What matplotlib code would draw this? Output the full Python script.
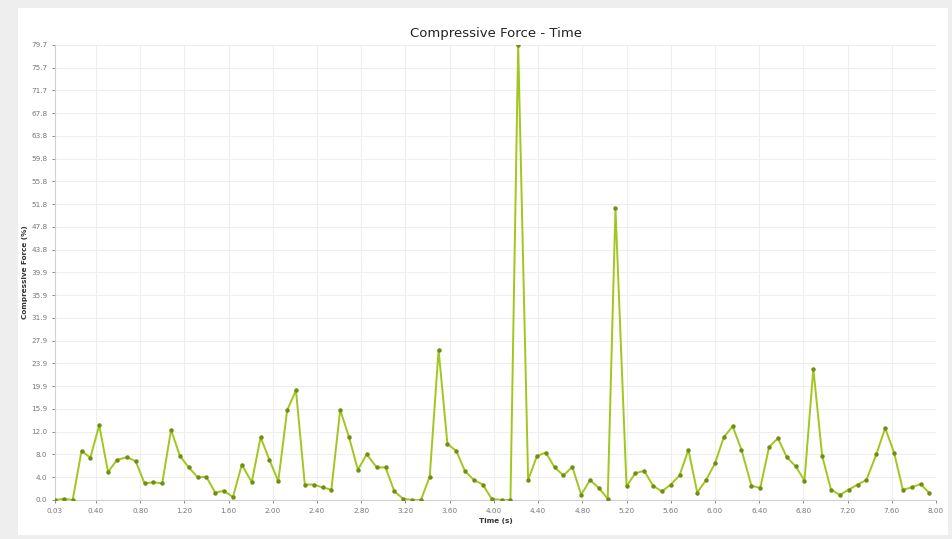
import numpy as np
import matplotlib
matplotlib.use('Agg')
import matplotlib.pyplot as plt
from matplotlib.patches import Rectangle

# sample times (s)
times = [0.03, 0.11, 0.19, 0.27, 0.35, 0.43, 0.51, 0.59, 0.68, 0.76,
         0.84, 0.92, 1.00, 1.08, 1.16, 1.24, 1.32, 1.40, 1.48, 1.56,
         1.64, 1.72, 1.81, 1.89, 1.97, 2.05, 2.13, 2.21, 2.29, 2.37,
         2.45, 2.53, 2.61, 2.69, 2.77, 2.85, 2.94, 3.02, 3.10, 3.18,
         3.26, 3.34, 3.42, 3.50, 3.58, 3.66, 3.74, 3.82, 3.90, 3.98,
         4.07, 4.15, 4.22, 4.31, 4.39, 4.47, 4.55, 4.63, 4.71, 4.79,
         4.87, 4.95, 5.03, 5.10, 5.20, 5.28, 5.36, 5.44, 5.52, 5.60,
         5.68, 5.76, 5.84, 5.92, 6.00, 6.08, 6.16, 6.24, 6.33, 6.41,
         6.49, 6.57, 6.65, 6.73, 6.81, 6.89, 6.97, 7.05, 7.13, 7.21,
         7.29, 7.37, 7.46, 7.54, 7.62, 7.70, 7.78, 7.86, 7.94]

# compressive force (%)
force = [0.0, 0.2, 0.0, 8.6, 7.4, 13.1, 4.9, 7.0, 7.5, 6.8,
         2.9, 3.1, 2.9, 12.3, 7.7, 5.7, 4.0, 4.0, 1.3, 1.6,
         0.5, 6.2, 3.1, 11.0, 7.0, 3.3, 15.7, 19.2, 2.7, 2.7,
         2.2, 1.8, 15.8, 11.0, 5.3, 8.0, 5.7, 5.7, 1.5, 0.2,
         0.0, 0.0, 4.1, 26.3, 9.8, 8.6, 5.0, 3.5, 2.7, 0.2,
         0.0, 0.0, 79.7, 3.5, 7.7, 8.3, 5.7, 4.3, 5.8, 0.9,
         3.5, 2.1, 0.2, 51.1, 2.4, 4.7, 5.1, 2.5, 1.5, 2.7,
         4.3, 8.8, 1.3, 3.5, 6.4, 11.0, 12.9, 8.8, 2.5, 2.1,
         9.3, 10.8, 7.5, 5.9, 3.4, 23.0, 7.7, 1.8, 0.9, 1.8,
         2.7, 3.5, 8.0, 12.6, 8.3, 1.8, 2.2, 2.8, 1.2]

xtick_vals = [0.03, 0.40, 0.80, 1.20, 1.60, 2.00, 2.40, 2.80, 3.20, 3.60, 4.00,
              4.40, 4.80, 5.20, 5.60, 6.00, 6.40, 6.80, 7.20, 7.60, 8.00]
xtick_labels = ['0.03', '0.40', '0.80', '1.20', '1.60', '2.00', '2.40', '2.80',
                '3.20', '3.60', '4.00', '4.40', '4.80', '5.20', '5.60', '6.00',
                '6.40', '6.80', '7.20', '7.60', '8.00']
ytick_labels = ['0.0', '4.0', '8.0', '12.0', '15.9', '19.9', '23.9', '27.9',
                '31.9', '35.9', '39.9', '43.8', '47.8', '51.8', '55.8', '59.8',
                '63.8', '67.8', '71.7', '75.7', '79.7']
y_max = 79.7

fig = plt.figure(figsize=(9.53, 5.39), dpi=100, facecolor='#eeeeee')
fig.patches.append(Rectangle((0.019, 0.008), 0.976, 0.977, transform=fig.transFigure,
                             facecolor='white', edgecolor='none', zorder=-5))

ax = fig.add_axes([0.0577, 0.0724, 0.9245, 0.8442])
ax.set_zorder(2)
ax.set_facecolor('white')

ax.plot(times, force, color='#a2c61e', linewidth=1.4, zorder=3)
ax.plot(times, force, linestyle='none', marker='o', markersize=2.2,
        color='#6f8f12', zorder=4)

ax.set_xlim(0.03, 8.00)
ax.set_ylim(0, y_max)
ax.set_xticks(xtick_vals)
ax.set_xticklabels(xtick_labels)
ax.set_yticks(np.linspace(0, y_max, len(ytick_labels)))
ax.set_yticklabels(ytick_labels)
ax.tick_params(axis='both', labelsize=5.2, colors='#777777', length=2, width=0.6)

ax.grid(True, color='#eeeeee', linewidth=0.8)
ax.set_axisbelow(True)
for side in ['top', 'right']:
    ax.spines[side].set_visible(False)
for side in ['left', 'bottom']:
    ax.spines[side].set_color('#d0d0d0')
    ax.spines[side].set_linewidth(0.8)

ax.set_title('Compressive Force - Time', fontsize=9.5, color='#222222', pad=6)
ax.set_xlabel('Time (s)', fontsize=5.2, fontweight='bold', color='#333333', labelpad=3)
ax.set_ylabel('Compressive Force (%)', fontsize=5.2, fontweight='bold', color='#333333', labelpad=2)

fig.savefig('out.png', dpi=100, facecolor=fig.get_facecolor())
